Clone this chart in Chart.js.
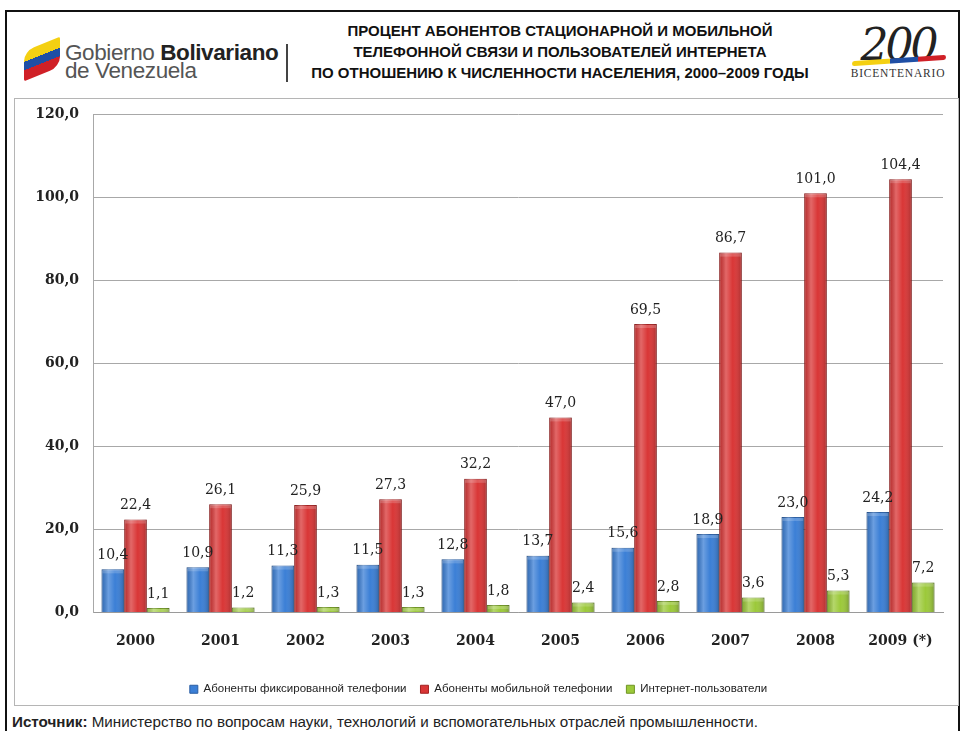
<!DOCTYPE html>
<html>
<head>
<meta charset="utf-8">
<script src="https://cdn.jsdelivr.net/npm/chart.js@4"></script>
<style>
  body { margin: 0; background: #fff; width: 963px; height: 731px; overflow: hidden; position: relative; font-family: "Liberation Sans", Arial, sans-serif; }
  .frame { position: absolute; left: 5px; top: 10px; width: 951px; height: 730px; border: 2px solid #111; border-bottom: none; }
  .box { position: absolute; left: 14px; top: 98px; width: 943px; height: 606px; border: 1px solid #b5b5b5; }
  .title { position: absolute; left: 300px; top: 20px; width: 520px; text-align: center; font-family: "Liberation Sans Narrow", "Liberation Sans", sans-serif; font-weight: bold; font-size: 15px; line-height: 21px; color: #111; }
  .gob { position: absolute; left: 65px; top: 44px; font-size: 22.5px; line-height: 18px; color: #555; letter-spacing: -0.4px; }
  .gob b { color: #222; }
  .sep { position: absolute; left: 286px; top: 44px; width: 2px; height: 38px; background: #444; }
  .flag { position: absolute; left: 24px; top: 44px; width: 36px; height: 30px; transform: skewY(-22deg);
          background: linear-gradient(#f4d012 0 36%, #1f4fa5 36% 64%, #d02027 64% 100%); border-radius: 10px 2px 10px 2px; }
  .bic { position: absolute; left: 842px; top: 22px; width: 112px; text-align: center; }
  .bic .n { font-family: "DejaVu Serif", serif; font-style: italic; font-size: 44px; line-height: 46px; color: #222; letter-spacing: -3px; }
  .bic .bar { height: 5px; margin: -10px 8px 4px 10px; background: linear-gradient(90deg, #f4d012 0 40%, #1f4fa5 40% 70%, #d02027 70% 100%); border-radius: 3px; transform: skewY(-4deg); }
  .bic .t { font-family: "Liberation Serif", serif; font-size: 11.5px; color: #333; letter-spacing: 0.8px; }
  .src { position: absolute; left: 12px; top: 713px; font-family: "Liberation Sans Narrow", "Liberation Sans", sans-serif; font-size: 15.2px; color: #222; }
  #wrap { position: absolute; left: 14px; top: 92px; width: 944px; height: 613px; }
</style>
</head>
<body>
<div class="frame"></div>
<div class="flag"></div>
<div class="gob">Gobierno <b>Bolivariano</b><br>de Venezuela</div>
<div class="sep"></div>
<div class="title">ПРОЦЕНТ АБОНЕНТОВ СТАЦИОНАРНОЙ И МОБИЛЬНОЙ<br>ТЕЛЕФОННОЙ СВЯЗИ И ПОЛЬЗОВАТЕЛЕЙ ИНТЕРНЕТА<br>ПО ОТНОШЕНИЮ К ЧИСЛЕННОСТИ НАСЕЛЕНИЯ, 2000–2009 ГОДЫ</div>
<div class="bic"><div class="n">200</div><div class="bar"></div><div class="t">BICENTENARIO</div></div>
<div class="box"></div>
<div id="wrap"><canvas id="chart"></canvas></div>
<div class="src"><b>Источник:</b> Министерство по вопросам науки, технологий и вспомогательных отраслей промышленности.</div>
<script>
// Данные
const years = ["2000", "2001", "2002", "2003", "2004", "2005", "2006", "2007", "2008", "2009 (*)"];
const fixedPhones = [10.4, 10.9, 11.3, 11.5, 12.8, 13.7, 15.6, 18.9, 23.0, 24.2];
const mobilePhones = [22.4, 26.1, 25.9, 27.3, 32.2, 47.0, 69.5, 86.7, 101.0, 104.4];
const internetUsers = [1.1, 1.2, 1.3, 1.3, 1.8, 2.4, 2.8, 3.6, 5.3, 7.2];
const seriesNames = ["Абоненты фиксированной телефонии", "Абоненты мобильной телефонии", "Интернет-пользователи"];

const fmt = v => v.toFixed(1).replace('.', ',');

// объём столбцов + подписи
const barShading = {
  id: 'barShading',
  afterDatasetsDraw(chart) {
    const ctx = chart.ctx;
    ctx.save();
    chart.data.datasets.forEach((ds, i) => {
      chart.getDatasetMeta(i).data.forEach(bar => {
        const l = bar.x - bar.width / 2, r = bar.x + bar.width / 2;
        const g = ctx.createLinearGradient(l, 0, r, 0);
        g.addColorStop(0, 'rgba(0,0,0,0.15)');
        g.addColorStop(0.3, 'rgba(255,255,255,0.25)');
        g.addColorStop(0.6, 'rgba(255,255,255,0)');
        g.addColorStop(1, 'rgba(0,0,0,0.22)');
        ctx.fillStyle = g;
        ctx.fillRect(l, bar.y, bar.width, bar.base - bar.y);
        ctx.fillStyle = 'rgba(255,255,255,0.18)';
        ctx.fillRect(l + 1, bar.y + 1, bar.width - 2, Math.min(3, bar.base - bar.y - 1));
      });
    });
    ctx.font = '14px "DejaVu Serif", serif';
    ctx.fillStyle = '#222';
    ctx.textAlign = 'center';
    ctx.textBaseline = 'bottom';
    chart.data.datasets.forEach((ds, i) => {
      chart.getDatasetMeta(i).data.forEach((bar, j) => {
        ctx.fillText(fmt(ds.data[j]), bar.x, bar.y - 7);
      });
    });
    ctx.restore();
  }
};

new Chart(document.getElementById('chart'), {
  type: 'bar',
  data: {
    labels: years,
    datasets: [{
      label: seriesNames[0],
      data: fixedPhones,
      backgroundColor: "#3b7fd6",
      borderColor: "#2a5ea3",
      borderWidth: 1
    },
    {
      label: seriesNames[1],
      data: mobilePhones,
      backgroundColor: "#d93636",
      borderColor: "#a32222",
      borderWidth: 1
    },
    {
      label: seriesNames[2],
      data: internetUsers,
      backgroundColor: "#9cc93a",
      borderColor: "#6f9424",
      borderWidth: 1
    }]
  },
  options: {
    responsive: true,
    maintainAspectRatio: false,
    animation: false,
    layout: { padding: { top: 10, right: 15, left: 0, bottom: 0 } },
    datasets: { bar: { categoryPercentage: 0.8, barPercentage: 1.0 } },
    scales: {
      x: {
        afterFit: s => { s.height = 57; },
        grid: { display: false },
        border: { color: '#9a9a9a' },
        ticks: { color: '#222', padding: 12, font: { family: '"DejaVu Serif", serif', size: 14, weight: 'bold' } }
      },
      y: {
        min: 0, max: 120,
        afterFit: s => { s.width = 79; },
        grid: { color: '#a8a8a8', drawTicks: false },
        border: { color: '#a8a8a8' },
        ticks: { stepSize: 20, padding: 14, color: '#222', callback: v => fmt(v), font: { family: '"DejaVu Serif", serif', size: 14, weight: 'bold' } }
      }
    },
    plugins: {
      legend: {
        position: 'bottom',
        labels: { boxWidth: 8, boxHeight: 8, padding: 14, color: '#222', font: { family: '"Liberation Sans Narrow", "Liberation Sans", sans-serif', size: 11.5 } }
      },
      tooltip: { enabled: false }
    }
  },
  plugins: [barShading]
});
</script>
</body>
</html>
